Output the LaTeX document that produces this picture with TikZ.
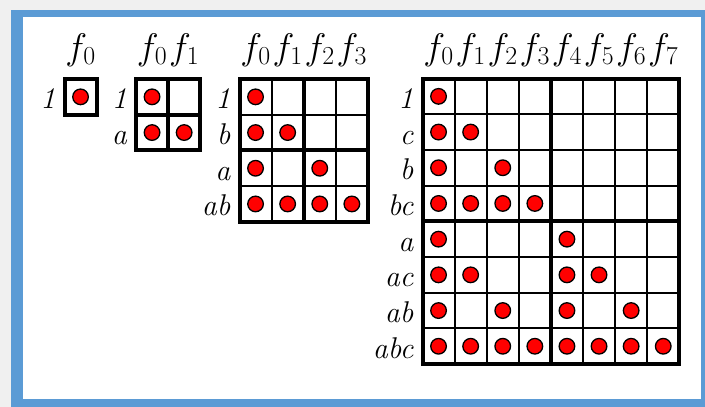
\RequirePackage{fix-cm}
\documentclass[tikz,border=0pt]{standalone}
\usepackage{tikz}
\definecolor{frameblue}{HTML}{5B9BD5}
\definecolor{pagegray}{HTML}{F0F0F0}
\definecolor{dotred}{HTML}{FF0000}

\def\cw{32.1}
\def\ch{35.7}

\tikzset{
  thinline/.style={line width=2.1pt},
  thickline/.style={line width=4pt},
  dot/.style={fill=dotred,draw=black,line width=1.3pt},
  collab/.style={anchor=base,inner sep=0pt,font=\fontsize{37}{42}\selectfont},
  rowlab/.style={anchor=base east,inner sep=0pt,font=\fontsize{30}{36}\selectfont\itshape},
}

\begin{document}
\begin{tikzpicture}[x=1pt,y=-1pt]
  \useasboundingbox (0,0) rectangle (705,407);
  % frame
  \fill[pagegray] (0,0) rectangle (705,407);
  \fill[frameblue] (11,10) rectangle (705,407);
  \fill[white] (23,17) rectangle (701,399);

  % one cell: f0
  \begin{scope}[shift={(64.5,79)}]
    \node[collab] (ga0) at ({0.5*\cw},-20) {$f_0$};
    \node[rowlab] (gar0) at (-9,{0.5*\ch+12}) {1};
    \draw[thickline] (0,0) rectangle (\cw,\ch);
    \path[dot] ({0.5*\cw},{0.5*\ch}) circle[radius=7.8];
  \end{scope}

  % two cells: f0 f1
  \begin{scope}[shift={(136,79)}]
    \foreach \c in {0,1}
      \node[collab] (gb\c) at ({(\c+0.5)*\cw},-20) {$f_\c$};
    \foreach \r/\lab in {0/1,1/a}
      \node[rowlab] (gbr\r) at (-9,{(\r+0.5)*\ch+12}) {\lab};
    \draw[thickline] (\cw,0) -- (\cw,2*\ch);
    \draw[thickline] (0,\ch) -- (2*\cw,\ch);
    \draw[thickline] (0,0) rectangle (2*\cw,2*\ch);
    \foreach \r/\cols in {0/{0},1/{0,1}}
      \foreach \c in \cols
        \path[dot] ({(\c+0.5)*\cw},{(\r+0.5)*\ch}) circle[radius=7.8];
  \end{scope}

  % four cells: f0..f3
  \begin{scope}[shift={(239.5,79)}]
    \foreach \c in {0,...,3}
      \node[collab] (gc\c) at ({(\c+0.5)*\cw},-20) {$f_\c$};
    \foreach \r/\lab in {0/1,1/b,2/a,3/ab}
      \node[rowlab] (gcr\r) at (-9,{(\r+0.5)*\ch+12}) {\lab};
    \foreach \k in {1,3} {
      \draw[thinline] (\k*\cw,0) -- (\k*\cw,4*\ch);
      \draw[thinline] (0,\k*\ch) -- (4*\cw,\k*\ch);
    }
    \draw[thickline] (2*\cw,0) -- (2*\cw,4*\ch);
    \draw[thickline] (0,2*\ch) -- (4*\cw,2*\ch);
    \draw[thickline] (0,0) rectangle (4*\cw,4*\ch);
    \foreach \r/\cols in {0/{0},1/{0,1},2/{0,2},3/{0,1,2,3}}
      \foreach \c in \cols
        \path[dot] ({(\c+0.5)*\cw},{(\r+0.5)*\ch}) circle[radius=7.8];
  \end{scope}

  % eight cells: f0..f7
  \begin{scope}[shift={(422.5,78.5)}]
    \foreach \c in {0,...,7}
      \node[collab] (gd\c) at ({(\c+0.5)*\cw},-19.5) {$f_\c$};
    \foreach \r/\lab in {0/1,1/c,2/b,3/bc,4/a,5/ac,6/ab,7/abc}
      \node[rowlab] (gdr\r) at (-9,{(\r+0.5)*\ch+12}) {\lab};
    \foreach \k in {1,2,3,5,6,7} {
      \draw[thinline] (\k*\cw,0) -- (\k*\cw,8*\ch);
      \draw[thinline] (0,\k*\ch) -- (8*\cw,\k*\ch);
    }
    \draw[thickline] (4*\cw,0) -- (4*\cw,8*\ch);
    \draw[thickline] (0,4*\ch) -- (8*\cw,4*\ch);
    \draw[thickline] (0,0) rectangle (8*\cw,8*\ch);
    \foreach \r/\cols in {0/{0},1/{0,1},2/{0,2},3/{0,1,2,3},
                          4/{0,4},5/{0,1,4,5},6/{0,2,4,6},7/{0,1,2,3,4,5,6,7}}
      \foreach \c in \cols
        \path[dot] ({(\c+0.5)*\cw},{(\r+0.5)*\ch}) circle[radius=7.8];
  \end{scope}
\end{tikzpicture}
\end{document}
